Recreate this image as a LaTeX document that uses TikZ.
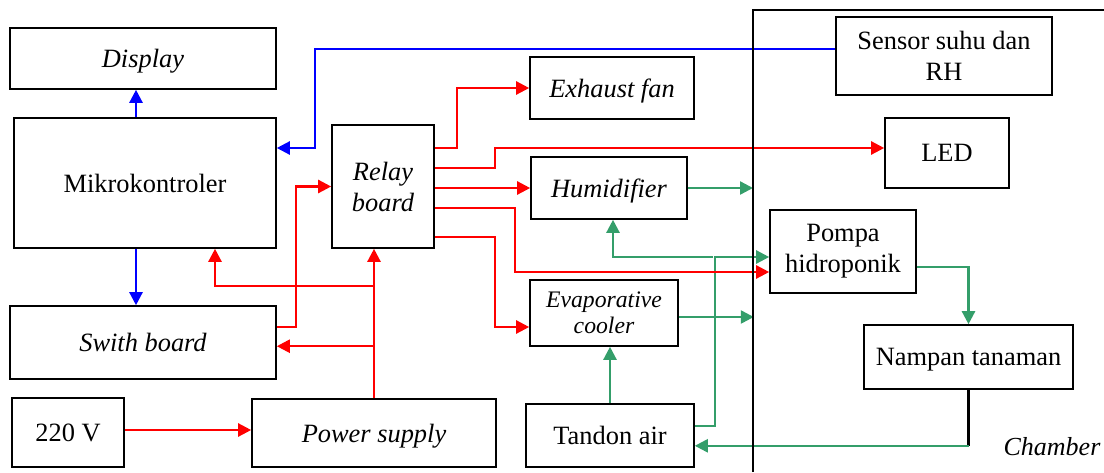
\documentclass[tikz,border=0pt]{standalone}
\usepackage{fontspec}
\setmainfont{Liberation Serif}
\usepackage{tikz}
\usetikzlibrary{calc,arrows.meta}
\definecolor{pipegreen}{RGB}{52,158,106}

\begin{document}
\begin{tikzpicture}[x=1pt,y=-1pt,>={Triangle[length=13pt,width=13pt]},
	mbox/.style={draw,line width=1.6pt,inner sep=0pt,align=center,font=\fontsize{26.4}{31}\selectfont},
	box/.style={mbox,text depth=0pt},
	itbox/.style={box,font=\fontsize{26.4}{31}\selectfont\itshape},
	rline/.style={->,red,line width=2.4pt},
	bline/.style={->,blue,line width=2.4pt},
	gline/.style={->,pipegreen,line width=2.4pt}]
			\useasboundingbox (0,0) rectangle (1104,472);
			
			\node[itbox,minimum width=266pt,minimum height=61pt] (disp) at (143,58.5) {Display};
			\node[box,minimum width=262pt,minimum height=130pt] (mcu) at (145,183) {Mikrokontroler};
			\node[mbox,font=\fontsize{26.4}{31}\selectfont\itshape,minimum width=102pt,minimum height=123pt] (relay) at (383,186.5) {Relay\\board};
			\node[itbox,minimum width=266pt,minimum height=73pt] (swb) at (143,342.5) {Swith board};
			\node[box,minimum width=112pt,minimum height=69pt] (ac) at (68,432.5) {220 V};
			\node[itbox,minimum width=244pt,minimum height=68pt] (psu) at (374,433) {Power supply};
			
			\node[itbox,minimum width=164pt,minimum height=62pt] (fan) at (612,88) {Exhaust fan};
			\node[itbox,minimum width=156pt,minimum height=62pt] (hum) at (609,188) {Humidifier};
			\node[mbox,font=\fontsize{23.7}{26}\selectfont\itshape,minimum width=148pt,minimum height=66pt] (evap) at (604,313) {Evaporative\\cooler};
			\node[box,minimum width=168pt,minimum height=63pt] (tank) at (610,435.5) {Tandon air};
			
			\node[mbox,minimum width=216pt,minimum height=78pt] (sens) at (944,56) {Sensor suhu dan\\RH};
			\node[box,minimum width=124pt,minimum height=70pt] (led) at (947,153) {LED};
			\node[mbox,minimum width=146pt,minimum height=83pt] (pump) at (843,251.5) {Pompa\\hidroponik};
			\node[box,minimum width=209pt,minimum height=64pt] (tray) at (968.5,357) {Nampan tanaman};
			\node[font=\fontsize{26}{30}\selectfont\itshape] (chlabel) at (1052,447) {Chamber};
			
			\coordinate (chb) at (753,472);
			\coordinate (chr) at (1104,10);
			
			% air and water
			\draw[gline] (hum.east) -- (hum.east -| chb);
			\draw[gline] ($(evap.east)+(0,4)$) -- ($(evap.east)+(75,4)$);
			\draw[gline] (tank.north) -- (tank.north |- evap.south);
			\draw[gline] ($(tank.east)+(0,-9.5)$) -- ++(20,0) |- ($(pump.west)+(0,5.5)$);
			\draw[gline] ($(pump.west)+(-56,5.5)$) -| ($(hum.south)+(4,0)$);
			\draw[gline] ($(pump.east)+(0,15.5)$) -| (tray.north);
			\draw[line width=2.4pt] (tray.south) -- ++(0,56) coordinate (tret);
			\draw[gline] (tret) -- (tret -| tank.east);
			
			% power
			\coordinate (pj1) at ($(psu.north)+(0,-112)$);
			\coordinate (pj2) at ($(psu.north)+(0,-52)$);
			\draw[rline] ($(ac.east)+(0,-2.5)$) -- ($(psu.west)+(0,-3)$);
			\draw[rline] (psu.north) -- (psu.north |- relay.south);
			\draw[rline] (pj1) -| ($(mcu.south)+(70,0)$);
			\draw[rline] (pj2) -- (pj2 -| swb.east);
			\draw[rline] ($(swb.east)+(0,-15.5)$) -- ++(19,0) |- (relay.west);
			\draw[rline] ($(relay.east)+(0,-38.5)$) -- ++(22,0) |- (fan.west);
			\draw[rline] ($(relay.east)+(0,-18.5)$) -- ++(60,0) |- ($(led.west)+(0,-5)$);
			\draw[rline] (relay.east |- hum.west) -- (hum.west);
			\draw[rline] ($(relay.east)+(0,21.5)$) -- ++(80,0) |- ($(pump.west)+(0,20.5)$);
			\draw[rline] ($(relay.east)+(0,50.5)$) -- ++(60,0) |- ($(evap.west)+(0,14)$);
			
			% data
			\draw[bline] ($(mcu.north)+(-9,0)$) -- ($(disp.south)+(-7,0)$);
			\draw[bline] ($(mcu.south)+(-9,0)$) -- ($(swb.north)+(-7,0)$);
			\draw[bline] ($(sens.west)+(0,-7)$) -| ($(mcu.east)+(38,-35)$) -- ($(mcu.east)+(0,-35)$);
			
			\draw[line width=2.4pt] (chb) |- (chr);
		\end{tikzpicture}
\end{document}
